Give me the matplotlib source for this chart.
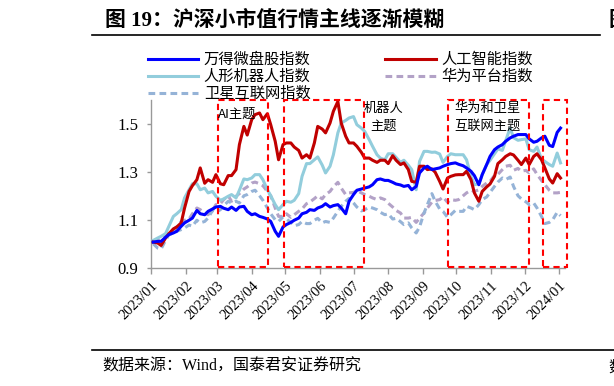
import matplotlib
matplotlib.use("Agg")
import matplotlib.pyplot as plt
import matplotlib.dates as mdates
from matplotlib.patches import Rectangle
import pandas as pd

CJK = ['Noto Sans CJK SC', 'DejaVu Sans']
SERIF_CJK = ['Liberation Serif', 'Noto Sans CJK SC']
plt.rcParams['font.family'] = CJK

# ---------------- data ----------------
dates = pd.DatetimeIndex(sorted(
    list(pd.date_range('2023-01-03', '2024-01-02', freq='7D')) +
    list(pd.date_range('2023-01-07', '2023-12-30', freq='7D'))))

wind_micro = [
    1.008, 1.011, 1.011, 1.028, 1.039, 1.046, 1.053, 1.074, 1.088, 1.099,
    1.108, 1.140, 1.126, 1.122, 1.136, 1.146, 1.154, 1.157, 1.149, 1.143,
    1.154, 1.140, 1.154, 1.157, 1.136, 1.122, 1.126, 1.115, 1.111, 1.104,
    1.094, 1.053, 1.032, 1.071, 1.081, 1.090, 1.099, 1.108, 1.126, 1.132,
    1.143, 1.140, 1.150, 1.157, 1.168, 1.154, 1.160, 1.164, 1.150, 1.126,
    1.178, 1.206, 1.224, 1.229, 1.233, 1.238, 1.247, 1.268, 1.271, 1.265,
    1.265, 1.257, 1.250, 1.246, 1.240, 1.244, 1.226, 1.240, 1.296, 1.317,
    1.324, 1.310, 1.313, 1.317, 1.324, 1.331, 1.335, 1.338, 1.332, 1.326,
    1.317, 1.303, 1.285, 1.247, 1.289, 1.331, 1.365, 1.393, 1.404, 1.414,
    1.428, 1.442, 1.449, 1.456, 1.456, 1.456, 1.438, 1.424, 1.428, 1.442,
    1.449, 1.411, 1.406, 1.465, 1.483]
ai_index = [
    1.008, 1.004, 0.994, 1.025, 1.043, 1.063, 1.071, 1.088, 1.150, 1.219,
    1.243, 1.268, 1.317, 1.253, 1.268, 1.257, 1.289, 1.251, 1.247, 1.285,
    1.285, 1.310, 1.414, 1.490, 1.454, 1.518, 1.539, 1.546, 1.518, 1.543,
    1.497, 1.428, 1.351, 1.414, 1.421, 1.421, 1.404, 1.390, 1.358, 1.372,
    1.358, 1.421, 1.490, 1.479, 1.463, 1.504, 1.553, 1.594, 1.504, 1.449,
    1.421, 1.421, 1.407, 1.382, 1.358, 1.358, 1.349, 1.340, 1.349, 1.349,
    1.335, 1.368, 1.349, 1.331, 1.338, 1.310, 1.261, 1.257, 1.324, 1.324,
    1.310, 1.313, 1.299, 1.261, 1.229, 1.275, 1.282, 1.288, 1.289, 1.289,
    1.303, 1.268, 1.213, 1.178, 1.219, 1.238, 1.250, 1.282, 1.335, 1.351,
    1.365, 1.376, 1.371, 1.349, 1.331, 1.358, 1.331, 1.365, 1.376, 1.351,
    1.317, 1.271, 1.254, 1.293, 1.275]
robot_index = [
    1.015, 1.025, 1.032, 1.043, 1.074, 1.115, 1.126, 1.143, 1.192, 1.226,
    1.251, 1.251, 1.226, 1.233, 1.213, 1.219, 1.199, 1.182, 1.188, 1.199,
    1.206, 1.192, 1.224, 1.271, 1.268, 1.275, 1.289, 1.289, 1.268, 1.226,
    1.201, 1.164, 1.143, 1.164, 1.178, 1.174, 1.182, 1.210, 1.282, 1.335,
    1.335, 1.351, 1.363, 1.329, 1.296, 1.324, 1.372, 1.463, 1.504, 1.515,
    1.525, 1.531, 1.497, 1.483, 1.469, 1.435, 1.407, 1.372, 1.358, 1.351,
    1.376, 1.376, 1.361, 1.340, 1.349, 1.328, 1.310, 1.226, 1.344, 1.386,
    1.386, 1.382, 1.383, 1.375, 1.340, 1.365, 1.376, 1.372, 1.372, 1.372,
    1.351, 1.282, 1.247, 1.251, 1.289, 1.331, 1.349, 1.376, 1.396, 1.390,
    1.431, 1.483, 1.443, 1.432, 1.435, 1.438, 1.393, 1.386, 1.404, 1.354,
    1.344, 1.331, 1.324, 1.379, 1.338]
huawei_index = [
    1.011, 1.018, 1.025, 1.035, 1.046, 1.060, 1.071, 1.094, 1.099, 1.104,
    1.126, 1.150, 1.143, 1.129, 1.122, 1.140, 1.164, 1.168, 1.185, 1.201,
    1.178, 1.199, 1.210, 1.229, 1.238, 1.254, 1.258, 1.251, 1.243, 1.219,
    1.201, 1.150, 1.115, 1.115, 1.126, 1.111, 1.122, 1.136, 1.146, 1.168,
    1.175, 1.189, 1.201, 1.188, 1.206, 1.219, 1.238, 1.257, 1.233, 1.206,
    1.213, 1.215, 1.222, 1.213, 1.206, 1.199, 1.192, 1.185, 1.192, 1.185,
    1.170, 1.154, 1.140, 1.129, 1.108, 1.108, 1.111, 1.090, 1.108, 1.129,
    1.150, 1.174, 1.181, 1.185, 1.196, 1.174, 1.185, 1.182, 1.185, 1.201,
    1.213, 1.224, 1.219, 1.226, 1.240, 1.254, 1.261, 1.286, 1.290, 1.310,
    1.324, 1.328, 1.307, 1.315, 1.303, 1.307, 1.296, 1.313, 1.290, 1.265,
    1.247, 1.224, 1.213, 1.213, 1.215]
satellite_index = [
    1.001, 0.983, 0.979, 1.015, 1.039, 1.046, 1.053, 1.060, 1.067, 1.079,
    1.074, 1.099, 1.088, 1.094, 1.108, 1.140, 1.132, 1.143, 1.160, 1.178,
    1.171, 1.178, 1.171, 1.201, 1.206, 1.219, 1.224, 1.201, 1.182, 1.150,
    1.126, 1.101, 1.094, 1.113, 1.104, 1.090, 1.076, 1.081, 1.094, 1.085,
    1.085, 1.099, 1.107, 1.088, 1.094, 1.090, 1.108, 1.136, 1.157, 1.178,
    1.190, 1.171, 1.154, 1.138, 1.143, 1.154, 1.150, 1.143, 1.132, 1.122,
    1.126, 1.104, 1.107, 1.093, 1.081, 1.088, 1.067, 1.046, 1.071, 1.129,
    1.164, 1.210, 1.178, 1.146, 1.136, 1.111, 1.122, 1.140, 1.136, 1.136,
    1.157, 1.150, 1.143, 1.164, 1.185, 1.196, 1.215, 1.240, 1.258, 1.275,
    1.268, 1.279, 1.240, 1.201, 1.188, 1.176, 1.164, 1.171, 1.150, 1.115,
    1.085, 1.090, 1.101, 1.132, 1.118]

series_names = ['万得微盘股指数', '人工智能指数', '人形机器人指数', '华为平台指数', '卫星互联网指数']
themes = [('2023-03-02', '2023-04-16'), ('2023-04-30', '2023-07-10'),
          ('2023-09-23', '2023-12-05'), ('2023-12-17', '2024-01-08')]
theme_labels = ['AI主题', '机器人\n主题', '华为和卫星\n互联网主题']
theme_label_pos = [('2023-03-19', 1.542), ('2023-07-28', 1.527), ('2023-10-29', 1.527)]
yticks = [0.9, 1.1, 1.3, 1.5]
title = '图 19：沪深小市值行情主线逐渐模糊'
source = '数据来源：Wind，国泰君安证券研究'

# ---------------- figure ----------------
W, H = 614, 386
fig = plt.figure(figsize=(W / 100, H / 100), dpi=100)
ax = fig.add_axes([151 / W, 1 - 268 / H, (565 - 151) / W, (268 - 100) / H])

lw = 2.2
dash = (0, (2.2, 1.4))
l_blue, = ax.plot(dates, wind_micro, color='#0000FF', lw=lw, label=series_names[0], zorder=5)
l_red, = ax.plot(dates, ai_index, color='#C00000', lw=lw, label=series_names[1], zorder=4)
l_lb, = ax.plot(dates, robot_index, color='#92CDDC', lw=lw, label=series_names[2], zorder=3)
l_pu, = ax.plot(dates, huawei_index, color='#B3A2C7', lw=lw, ls=dash, label=series_names[3], zorder=2)
l_st, = ax.plot(dates, satellite_index, color='#95B3D7', lw=lw, ls=dash, label=series_names[4], zorder=2)

ax.set_ylim(0.9, 1.6)
ax.set_xlim(pd.Timestamp('2023-01-01'), pd.Timestamp('2024-01-06'))
ax.set_yticks(yticks)
ax.set_yticklabels([f'{v:.1f}' for v in yticks], family=['Liberation Serif'], fontsize=12)
ax.xaxis.set_major_locator(mdates.MonthLocator())
ax.xaxis.set_major_formatter(mdates.DateFormatter('%Y/%m'))
for lab in ax.get_xticklabels():
    lab.set_family(['Liberation Serif'])
    lab.set_fontsize(10.5)
    lab.set_rotation(45)
    lab.set_ha('right')
    lab.set_va('top')
    lab.set_rotation_mode('anchor')
ax.tick_params(axis='x', length=4, width=1, color='#999999', pad=4)
ax.tick_params(axis='y', length=3, width=1, color='#999999', pad=6)
for s in ['top', 'right']:
    ax.spines[s].set_visible(False)
for s in ['left', 'bottom']:
    ax.spines[s].set_color('#999999')
    ax.spines[s].set_linewidth(1)
ax.patch.set_alpha(0)

# theme boxes
for (a, b) in themes:
    x0 = mdates.date2num(pd.Timestamp(a))
    x1 = mdates.date2num(pd.Timestamp(b))
    r = Rectangle((x0, 0.905), x1 - x0, 1.6 - 0.905, fill=False, ec='#FF0000', lw=1.5,
                  ls=(0, (3, 2)), clip_on=False, zorder=6)
    ax.add_patch(r)
for lab, (d, v) in zip(theme_labels, theme_label_pos):
    ax.text(pd.Timestamp(d), v, lab, ha='center', va='center', fontsize=9.5,
            linespacing=1.5, family=CJK, zorder=7)

# legend
leg = fig.legend(handles=[l_blue, l_lb, l_st, l_red, l_pu], ncol=2, loc='upper left',
                 bbox_to_anchor=(148 / W, 1 - 51 / H), frameon=False, fontsize=11,
                 handlelength=3.3, handletextpad=0.35, columnspacing=4.9,
                 labelspacing=0.0, borderpad=0, borderaxespad=0)

# title and source
fig.text(105 / W, 1 - 20 / H, title, fontsize=15, fontweight='bold', va='center', ha='left',
         family=SERIF_CJK)
fig.text(609 / W, 1 - 20 / H, '图', fontsize=15, fontweight='bold', va='center', ha='left', family=CJK)
fig.add_artist(plt.Line2D([92 / W, 600 / W], [1 - 35 / H, 1 - 35 / H], color='black', lw=1.2))
fig.add_artist(plt.Line2D([92 / W, 1.0], [1 - 350 / H, 1 - 350 / H], color='black', lw=1.2))
fig.text(102 / W, 1 - 367 / H, source, fontsize=11.5, va='center', ha='left', family=SERIF_CJK)
fig.text(608 / W, 1 - 367 / H, '数', fontsize=11.5, va='center', ha='left', family=CJK)

fig.savefig('out.png', dpi=100)
